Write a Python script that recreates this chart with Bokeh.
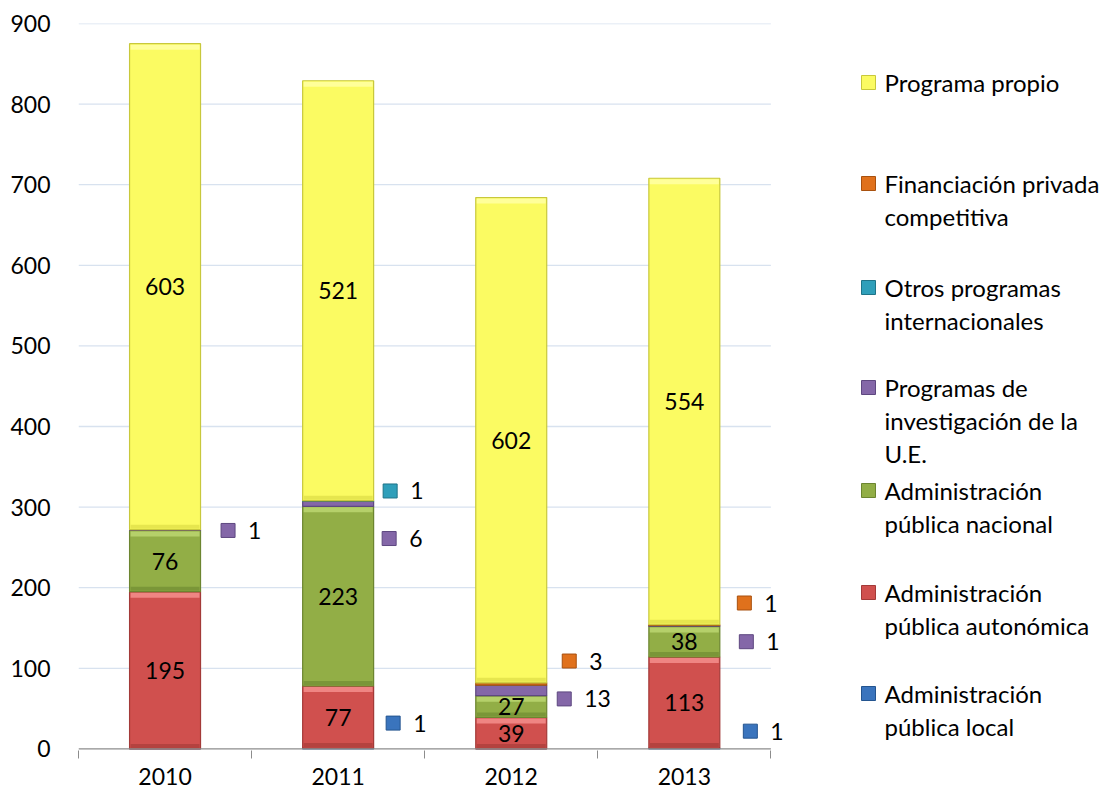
import numpy as np
from bokeh.plotting import figure
from bokeh.layouts import row
from bokeh.models import Range1d, FixedTicker, ColumnDataSource
from bokeh.core.properties import value
from bokeh.embed import file_html
from bokeh.resources import INLINE

# ---------------- data ----------------
years = ["2010", "2011", "2012", "2013"]
series_names = [
    "Administración pública local",
    "Administración pública autonómica",
    "Administración pública nacional",
    "Programas de investigación de la U.E.",
    "Otros programas internacionales",
    "Financiación privada competitiva",
    "Programa propio",
]
local = [0, 1, 0, 1]
autonomica = [195, 77, 39, 113]
nacional = [76, 223, 27, 38]
ue = [1, 6, 13, 1]
otros = [0, 1, 0, 0]
privada = [0, 0, 3, 1]
propio = [603, 521, 602, 554]
y_ticks = [0, 100, 200, 300, 400, 500, 600, 700, 800, 900]

legend_lines = [
    ["Programa propio"],
    ["Financiación privada", "competitiva"],
    ["Otros programas", "internacionales"],
    ["Programas de", "investigación de la", "U.E."],
    ["Administración", "pública nacional"],
    ["Administración", "pública autonómica"],
    ["Administración", "pública local"],
]

# styles
fills = ["#3a74bd", "#d0504e", "#92ae46", "#8467a8", "#2f9fba", "#e0711c", "#fbfb62"]
edges = ["#24548f", "#a33a38", "#6c8530", "#5e4880", "#1f7488", "#a8510f", "#c8c83c"]
lights = ["#6b9ad6", "#ef8583", "#b5d06a", "#a48bc6", "#6cc6dc", "#f7a05a", "#ffff9a"]
darks = ["#2d5f9c", "#b4423f", "#7a9638", "#6c5290", "#258aa2", "#c25f14", "#e6e64e"]

# outside label layout: (series index, year index, label y in data units, x offset px)
out_series = [3, 4, 3, 0, 5, 3, 5, 3, 0]
out_year = [0, 1, 1, 1, 2, 2, 3, 3, 3]
out_y = [271, 320, 261, 32, 109, 62, 181, 133, 22]
out_dx = [63, 52, 51, 55, 58, 53, 60, 62, 66]

FONT = "Lato"
FS = "23px"

all_series = [local, autonomica, nacional, ue, otros, privada, propio]
vals = np.array(all_series, dtype=float)
tops = np.cumsum(vals, axis=0)
bottoms = tops - vals
xc = np.arange(len(years)) + 0.5
bar_w = 0.41

H = 790
LEFT, TOP = 78, 23
X_MAX = 4.2
frame_w = 727
W_MAIN = LEFT + frame_w
px_per_x = frame_w / X_MAX
frame_h = 727
Y_MIN, Y_MAX = -2, 900
px_per_y = frame_h / (Y_MAX - Y_MIN)

p = figure(width=W_MAIN, height=H, x_range=Range1d(0, X_MAX), y_range=Range1d(Y_MIN, Y_MAX),
           output_backend="svg", toolbar_location=None,
           min_border_left=LEFT, min_border_right=0, min_border_top=TOP,
           min_border_bottom=H - TOP - frame_h)
p.outline_line_color = None
p.xgrid.visible = False
p.ygrid.visible = False

# gridlines (stop at plot area)
gy = [t for t in y_ticks if t > 0]
p.segment(x0=[0] * len(gy), x1=[len(years)] * len(gy), y0=gy, y1=gy, line_color="#d8e2ef", line_width=1.3)

# bars
for i in range(len(all_series)):
    src = ColumnDataSource(dict(x=xc, top=tops[i], bottom=bottoms[i], h=vals[i]))
    p.vbar(x="x", top="top", bottom="bottom", width=bar_w, source=src,
           fill_color=fills[i], line_color=edges[i], line_width=1.2)
    bx, bt, bb = [], [], []
    dx_, dt_, db_ = [], [], []
    for j in range(len(years)):
        if vals[i][j] * px_per_y >= 14:
            bx.append(xc[j]); bt.append(tops[i][j] - 1 / px_per_y); bb.append(tops[i][j] - 6 / px_per_y)
            dx_.append(xc[j]); dt_.append(bottoms[i][j] + 5 / px_per_y); db_.append(bottoms[i][j] + 1 / px_per_y)
    if bx:
        p.vbar(x=bx, top=bt, bottom=bb, width=bar_w - 2 / px_per_x, fill_color=lights[i], line_color=None)
        p.vbar(x=dx_, top=dt_, bottom=db_, width=bar_w - 2 / px_per_x, fill_color=darks[i], line_color=None)

# inside labels
lx, ly, lt = [], [], []
for i in range(len(all_series)):
    for j in range(len(years)):
        if vals[i][j] >= 20:
            lx.append(xc[j]); ly.append((tops[i][j] + bottoms[i][j]) / 2); lt.append(str(int(vals[i][j])))
p.text(x=lx, y=ly, text=lt, text_align="center", text_baseline="middle",
       text_font=value(FONT), text_font_size=FS, text_color="#000000")

# outside labels with legend keys
mx = [xc[j] + d / px_per_x for j, d in zip(out_year, out_dx)]
mt = [str(int(vals[s][j])) for s, j in zip(out_series, out_year)]
p.scatter(x=mx, y=out_y, marker="square", size=14,
          fill_color=[fills[s] for s in out_series], line_color=[edges[s] for s in out_series], line_width=1)
p.text(x=mx, y=out_y, text=mt, x_offset=20, text_align="left", text_baseline="middle",
       text_font=value(FONT), text_font_size=FS, text_color="#000000")

# baseline
p.segment(x0=[0], x1=[len(years)], y0=[0], y1=[0], line_color="#8c8c8c", line_width=1.3)

# axes
p.yaxis.ticker = FixedTicker(ticks=y_ticks)
p.yaxis.axis_line_color = None
p.yaxis.major_tick_line_color = None
p.yaxis.minor_tick_line_color = None
p.yaxis.major_label_standoff = 22
p.yaxis.major_label_text_font = FONT
p.yaxis.major_label_text_font_size = FS
p.yaxis.major_label_text_color = "#000000"

p.xaxis.ticker = FixedTicker(ticks=list(xc), minor_ticks=list(range(len(years) + 1)))
p.xaxis.major_label_overrides = {float(x): y for x, y in zip(xc, years)}
p.xaxis.axis_line_color = None
p.xaxis.major_tick_line_color = None
p.xaxis.major_tick_out = 0
p.xaxis.minor_tick_line_color = "#8c8c8c"
p.xaxis.minor_tick_out = 8
p.xaxis.minor_tick_in = 0
p.xaxis.major_label_standoff = 9
p.xaxis.major_label_text_font = FONT
p.xaxis.major_label_text_font_size = FS
p.xaxis.major_label_text_color = "#000000"

# ---------------- legend panel ----------------
W_LEG = 300
leg = figure(width=W_LEG, height=H, x_range=Range1d(0, W_LEG), y_range=Range1d(TOP + frame_h, TOP),
             output_backend="svg", toolbar_location=None,
             min_border=0, min_border_left=0, min_border_right=0,
             min_border_top=TOP, min_border_bottom=H - TOP - frame_h)
leg.axis.visible = False
leg.grid.visible = False
leg.outline_line_color = None

first_line_y = [82, 183, 287, 387, 490, 592, 693]
line_gap = 33
legend_series = [6, 5, 4, 3, 2, 1, 0]
tx, ty, tt = [], [], []
for k, lines in enumerate(legend_lines):
    for n, s in enumerate(lines):
        tx.append(79); ty.append(first_line_y[k] + n * line_gap); tt.append(s)
leg.scatter(x=[63] * len(first_line_y), y=first_line_y, marker="square", size=14,
            fill_color=[fills[s] for s in legend_series], line_color=[edges[s] for s in legend_series])
leg.text(x=tx, y=ty, text=tt, text_align="left", text_baseline="middle",
         text_font=value(FONT), text_font_size="24px", text_color="#000000")

layout = row(p, leg)
open("out.html", "w").write(file_html(layout, INLINE))
